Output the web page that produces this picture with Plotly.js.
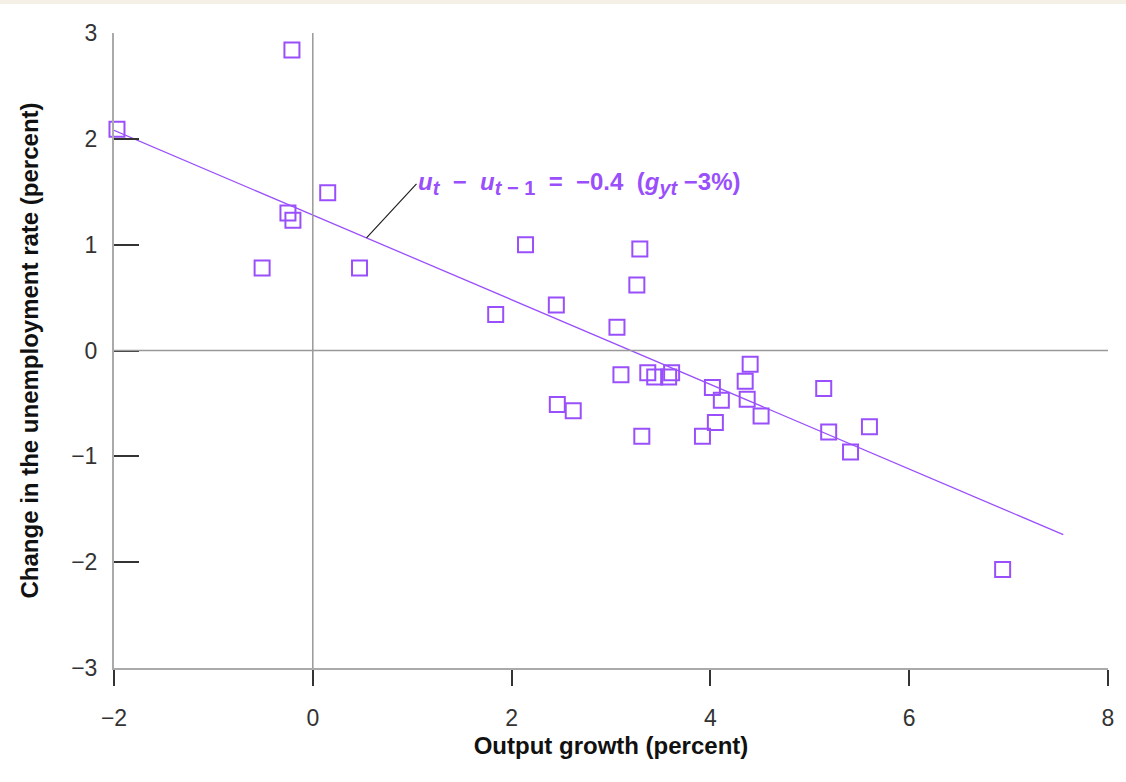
<!DOCTYPE html>
<html>
<head>
<meta charset="utf-8">
<script src="https://cdn.plot.ly/plotly-3.0.1.min.js"></script>
<style>html,body{margin:0;padding:0;background:#fff;}#chart{width:1126px;height:782px;}</style>
</head>
<body>
<div id="chart"></div>
<script>
// Output growth (percent)
const growth = [-1.97, -0.21, 0.15, -0.25, -0.20, -0.51, 0.47, 2.14, 3.29, 3.26, 2.45, 1.84, 3.06,
  3.10, 3.37, 3.44, 3.58, 3.61, 2.46, 2.62, 3.31, 3.92, 4.05, 4.02, 4.11, 4.35, 4.40, 4.37, 4.51,
  5.14, 5.19, 5.41, 5.60, 6.94];
// Change in the unemployment rate (percent)
const dUnemp = [2.09, 2.84, 1.49, 1.30, 1.23, 0.78, 0.78, 1.00, 0.96, 0.62, 0.43, 0.34, 0.22,
  -0.23, -0.21, -0.25, -0.25, -0.21, -0.51, -0.57, -0.81, -0.81, -0.68, -0.35, -0.47, -0.29, -0.13, -0.46, -0.62,
  -0.36, -0.77, -0.96, -0.72, -2.07];
// Fitted Okun's law line
const fitX = [-2, 7.55];
const fitY = [2.08, -1.74];
const xTicks = [-2, 0, 2, 4, 6, 8];
const yTicks = [-3, -2, -1, 0, 1, 2, 3];
const annX = 0.54, annY = 1.064;

const purple = '#9a4ffc';
const SP = '\u00A0';
const sub = s => '<sub><span style="font-size:20px">' + s + '</span></sub>';

const traces = [
  {x: fitX, y: fitY, type: 'scatter', mode: 'lines',
   line: {color: purple, width: 1.3}, hoverinfo: 'skip', cliponaxis: false},
  {x: growth, y: dUnemp, type: 'scatter', mode: 'markers', cliponaxis: false,
   marker: {symbol: 'square-open', size: 15, color: purple, line: {width: 2, color: purple}}}
];

const annText = '<b><i>u</i>' + sub('<i>t</i>') + SP + SP + '−' + SP + SP + '<i>u</i>' + sub('<i>t</i>' + SP + '−' + SP + '1') +
  SP + SP + '=' + SP + SP + '−0.4' + SP + SP + '(<i>g</i>' + sub('<i>yt</i>') + SP + '−3%)</b>';

const layout = {
  width: 1126, height: 782,
  margin: {l: 114, r: 18, t: 33, b: 114},
  paper_bgcolor: '#ffffff', plot_bgcolor: '#ffffff',
  showlegend: false,
  font: {family: '"Liberation Sans", Arial, sans-serif', color: '#333'},
  xaxis: {
    range: [-2, 8], tickvals: xTicks, showgrid: false, zeroline: false,
    showline: true, linecolor: '#aaaaaa', linewidth: 2,
    ticks: 'outside', ticklen: 16, tickwidth: 2, tickcolor: '#333',
    ticklabelstandoff: 12,
    tickfont: {size: 23, color: '#333'},
    title: {text: '<b>Output growth (percent)</b>', font: {size: 24, color: '#111'}, standoff: 8}
  },
  yaxis: {
    range: [-3, 3], tickvals: yTicks, showgrid: false, zeroline: false,
    showline: true, linecolor: '#aaaaaa', linewidth: 2,
    ticks: 'inside', ticklen: 25, tickwidth: 2, tickcolor: '#333',
    ticklabelstandoff: 10,
    tickfont: {size: 23, color: '#333'},
    title: {text: '<b>Change in the unemployment rate (percent)</b>', font: {size: 24, color: '#111'}, standoff: 26}
  },
  shapes: [
    {type: 'line', xref: 'x', yref: 'paper', x0: 0, x1: 0, y0: 0, y1: 1, line: {color: '#999', width: 1.5}},
    {type: 'line', xref: 'paper', yref: 'y', x0: 0, x1: 1, y0: 0, y1: 0, line: {color: '#999', width: 1.5}},
    {type: 'rect', xref: 'paper', yref: 'paper', x0: -0.2, x1: 1.1, y0: 1.0457, y1: 1.06, fillcolor: '#f5f0e6', line: {width: 0}, layer: 'below'}
  ],
  annotations: [
    {x: annX, y: annY, xref: 'x', yref: 'y', ax: 50, ay: -54, showarrow: true, arrowhead: 0,
     arrowwidth: 1.2, arrowcolor: '#222', xanchor: 'left', yanchor: 'middle',
     text: annText,
     font: {size: 24, color: purple, family: '"Liberation Sans", Arial, sans-serif'}}
  ]
};

Plotly.newPlot('chart', traces, layout, {displayModeBar: false, staticPlot: true});
</script>
</body>
</html>
